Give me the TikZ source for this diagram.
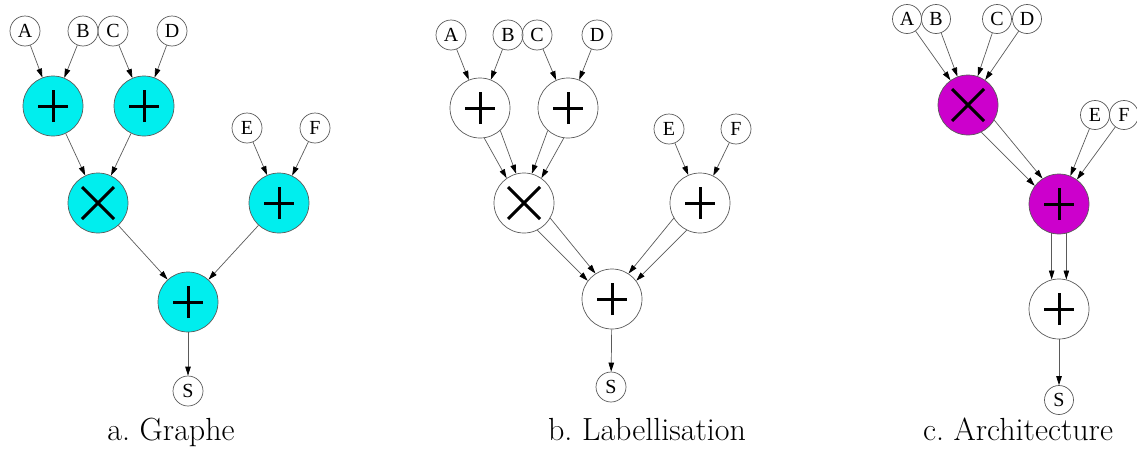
\documentclass[tikz,border=0pt]{standalone}
\usepackage{fontspec}
\newfontfamily\labfont{Liberation Serif}
\usetikzlibrary{arrows.meta,calc}
\frenchspacing
\definecolor{cy}{RGB}{0,238,238}
\definecolor{mg}{RGB}{204,0,204}
\definecolor{ln}{RGB}{90,90,90}
\tikzset{
 io/.style={circle,draw=ln,line width=0.7pt,minimum size=30pt,inner sep=0pt,font=\labfont\fontsize{20}{20}\selectfont},
 op/.style={circle,draw=ln,line width=0.7pt,minimum size=60pt,inner sep=0pt},
 plusop/.style={op,path picture={\draw[line width=3pt,black]
   ([xshift=-15pt]path picture bounding box.center)--([xshift=15pt]path picture bounding box.center)
   ([yshift=-16pt]path picture bounding box.center)--([yshift=16pt]path picture bounding box.center);}},
 timesop/.style={op,path picture={\draw[line width=3pt,black]
   ([shift={(-16pt,-16pt)}]path picture bounding box.center)--([shift={(16pt,16pt)}]path picture bounding box.center)
   ([shift={(-16pt,16pt)}]path picture bounding box.center)--([shift={(16pt,-16pt)}]path picture bounding box.center);}},
 edge/.style={draw=ln,line width=0.7pt,-{Triangle[length=9pt,width=5.5pt,color=black]}},
 caption/.style={anchor=base,font=\fontsize{32}{32}\selectfont},
}
\newcommand\dedge[4]{%
 \foreach \s in {1,-1}{%
  \draw[edge] let \p1=(#1.center),\p2=(#2.center),
    \n1={atan2(\y2-\y1,\x2-\x1)},
    \n2={int(round(\n1+(\s)*#3))},
    \n3={int(round(\n1+180-(\s)*#4))} in (#1.\n2) -- (#2.\n3);}}
\begin{document}
\begin{tikzpicture}[x=1pt,y=-1pt]
\useasboundingbox (0,0) rectangle (1137,450);
% ---------- panel a
\node[io] (aA) at (25,31) {A};
\node[io] (aB) at (83,31) {B};
\node[io] (aC) at (113,31) {C};
\node[io] (aD) at (172,31) {D};
\node[plusop,fill=cy] (aP1) at (53,106) {};
\node[plusop,fill=cy] (aP2) at (144,106) {};
\node[timesop,fill=cy] (aT) at (98,203) {};
\node[io] (aE) at (247,128) {E};
\node[io] (aF) at (315,128) {F};
\node[plusop,fill=cy] (aP3) at (279,203) {};
\node[plusop,fill=cy] (aP4) at (188,302) {};
\node[io] (aS) at (188,391) {S};
\foreach \u/\v in {aA/aP1,aB/aP1,aC/aP2,aD/aP2,aP1/aT,aP2/aT,aE/aP3,aF/aP3,aT/aP4,aP3/aP4,aP4/aS}
  \draw[edge] (\u) -- (\v);
\node[caption] (capa) at (171,440) {a. Graphe};
% ---------- panel b
\node[io] (bA) at (451,35) {A};
\node[io] (bB) at (508,35) {B};
\node[io] (bC) at (537,35) {C};
\node[io] (bD) at (597,35) {D};
\node[plusop,fill=white] (bP1) at (480,108) {};
\node[plusop,fill=white] (bP2) at (568,108) {};
\node[timesop,fill=white] (bT) at (524,203) {};
\node[io] (bE) at (669,129) {E};
\node[io] (bF) at (736,129) {F};
\node[plusop,fill=white] (bP3) at (700,203) {};
\node[plusop,fill=white] (bP4) at (612,299) {};
\node[io] (bS) at (611,387) {S};
\foreach \u/\v in {bA/bP1,bB/bP1,bC/bP2,bD/bP2,bE/bP3,bF/bP3,bP4/bS}
  \draw[edge] (\u) -- (\v);
\dedge{bP1}{bT}{17}{10}
\dedge{bP2}{bT}{17}{10}
\dedge{bT}{bP4}{17}{10}
\dedge{bP3}{bP4}{17}{10}
\node[caption] (capb) at (647,440) {b. Labellisation};
% ---------- panel c
\node[io,minimum size=29pt] (cA) at (907,19) {A};
\node[io,minimum size=29pt] (cB) at (936,19) {B};
\node[io,minimum size=29pt] (cC) at (997,19) {C};
\node[io,minimum size=29pt] (cD) at (1027,19) {D};
\node[timesop,fill=mg] (cT) at (968,105) {};
\node[io,minimum size=29pt] (cE) at (1095,115) {E};
\node[io,minimum size=29pt] (cF) at (1124,115) {F};
\node[plusop,fill=mg] (cP1) at (1059,204) {};
\node[plusop,fill=white] (cP2) at (1059,309) {};
\node[io,minimum size=29pt] (cS) at (1059,400) {S};
\foreach \u/\v in {cA/cT,cB/cT,cC/cT,cD/cT,cE/cP1,cF/cP1,cP2/cS}
  \draw[edge] (\u) -- (\v);
\dedge{cT}{cP1}{17}{10}
\dedge{cP1}{cP2}{14}{14}
\node[caption] (capc) at (1018,440) {c. Architecture};
\end{tikzpicture}
\end{document}
